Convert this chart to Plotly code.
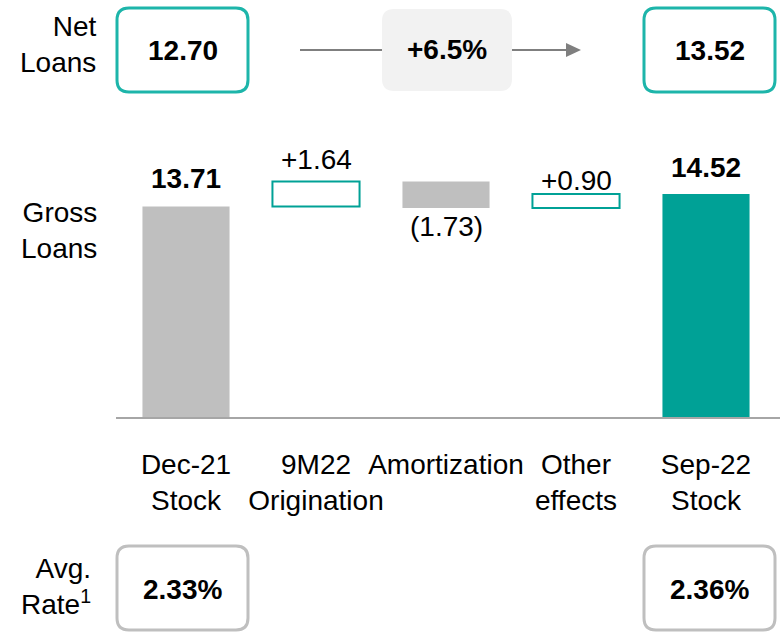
import plotly.graph_objects as go

# data
categories = ["Dec-21<br>Stock", "9M22<br>Origination", "Amortization", "Other<br>effects", "Sep-22<br>Stock"]
start_stock = 13.71
changes = [1.64, -1.73, 0.90]
end_stock = 14.52
value_labels = ["13.71", "+1.64", "(1.73)", "+0.90", "14.52"]

net_loans = ["12.70", "13.52"]
net_growth = "+6.5%"
avg_rate = ["2.33%", "2.36%"]

# colours / fonts
GREY_BAR = "#bfbfbf"
TEAL_BAR = "#00a196"
TEAL_LINE = "#1db5aa"
FONT = "Liberation Sans, Arial, sans-serif"
W, H = 781, 634


def px(x):
    return x / W


def py(y):
    return 1 - y / H


def round_rect(x0, y0, x1, y1, r):
    # rounded box in pixel coords -> paper path
    pts = [
        ("M", [(x0 + r, y0)]),
        ("L", [(x1 - r, y0)]),
        ("Q", [(x1, y0), (x1, y0 + r)]),
        ("L", [(x1, y1 - r)]),
        ("Q", [(x1, y1), (x1 - r, y1)]),
        ("L", [(x0 + r, y1)]),
        ("Q", [(x0, y1), (x0, y1 - r)]),
        ("L", [(x0, y0 + r)]),
        ("Q", [(x0, y0), (x0 + r, y0)]),
    ]
    s = ""
    for cmd, ps in pts:
        s += cmd + " " + " ".join(f"{px(a):.5f},{py(b):.5f}" for a, b in ps) + " "
    return s + "Z"


# waterfall bases
bases, heights = [0], [start_stock]
level = start_stock
for c in changes:
    if c >= 0:
        bases.append(level)
    else:
        bases.append(level + c)
    heights.append(abs(c))
    level += c
bases.append(0)
heights.append(end_stock)

fills = [GREY_BAR, "white", GREY_BAR, "white", TEAL_BAR]
lines = [GREY_BAR, TEAL_BAR, GREY_BAR, TEAL_BAR, TEAL_BAR]
line_w = [0, 2, 0, 2, 0]

fig = go.Figure()
fig.add_trace(go.Bar(
    x=categories, y=heights, base=bases,
    marker=dict(color=fills, line=dict(color=lines, width=line_w)),
    width=0.67, hoverinfo="skip",
))

# value labels above / below bars
label_shift = [28, 22, -19, 14, 27]
label_bold = [True, False, False, False, True]
for i, lab in enumerate(value_labels):
    top = bases[i] + heights[i]
    yv = bases[i] if label_shift[i] < 0 else top
    fig.add_annotation(
        x=categories[i], y=yv, xref="x", yref="y",
        text=f"<b>{lab}</b>" if label_bold[i] else lab,
        showarrow=False, yanchor="middle", yshift=label_shift[i],
        font=dict(size=28, color="black", family=FONT),
    )

shapes = []
teal_box = dict(type="path", xref="paper", yref="paper", line=dict(color=TEAL_LINE, width=3), fillcolor="white")
grey_box = dict(type="path", xref="paper", yref="paper", line=dict(color="#bfbfbf", width=3), fillcolor="white")
shapes.append(dict(teal_box, path=round_rect(117, 8, 248, 92, 12)))
shapes.append(dict(teal_box, path=round_rect(644, 8, 775, 92, 12)))
shapes.append(dict(type="path", xref="paper", yref="paper", line=dict(width=0),
                   fillcolor="#f2f2f2", path=round_rect(382, 9, 512, 91, 12)))
shapes.append(dict(grey_box, path=round_rect(117, 546, 248, 630, 12)))
shapes.append(dict(grey_box, path=round_rect(644, 546, 775, 630, 12)))
# arrow
shapes.append(dict(type="line", xref="paper", yref="paper", x0=px(300), x1=px(382), y0=py(50), y1=py(50),
                   line=dict(color="#7f7f7f", width=2)))
shapes.append(dict(type="line", xref="paper", yref="paper", x0=px(512), x1=px(567), y0=py(50), y1=py(50),
                   line=dict(color="#7f7f7f", width=2)))
shapes.append(dict(type="path", xref="paper", yref="paper", line=dict(width=0), fillcolor="#7f7f7f",
                   path=f"M {px(566)},{py(43)} L {px(581)},{py(50)} L {px(566)},{py(57)} Z"))

fig.update_layout(shapes=shapes)


def note(text, x, y, anchor="center", bold=False):
    fig.add_annotation(
        x=px(x), y=py(y), xref="paper", yref="paper",
        text=f"<b>{text}</b>" if bold else text,
        showarrow=False, xanchor=anchor, yanchor="middle", align=anchor if anchor != "center" else "center",
        font=dict(size=28, color="black", family=FONT),
    )


note("Net<br>Loans", 99, 44, anchor="right")
note(net_loans[0], 182.5, 51, bold=True)
note(net_growth, 447, 50, bold=True)
note(net_loans[1], 709.5, 51, bold=True)
note("Gross<br>Loans", 99, 231, anchor="right")
note("Avg.<br>Rate<sup>1</sup>", 93, 586, anchor="right")
note(avg_rate[0], 182.5, 589, bold=True)
note(avg_rate[1], 709.5, 589, bold=True)

x0 = -(186 - 116) / 130
fig.update_xaxes(
    domain=[px(116), px(780)], range=[x0, x0 + 664 / 130],
    showline=True, linecolor="#a6a6a6", linewidth=2, showgrid=False, zeroline=False,
    ticks="", tickangle=0, ticklabelstandoff=21,
    tickfont=dict(size=28, color="black", family=FONT),
)
fig.update_yaxes(
    domain=[py(417), py(140)], range=[0, (417 - 140) / 15.35],
    visible=False, showgrid=False, zeroline=False,
)
fig.update_layout(
    width=W, height=H, margin=dict(l=0, r=0, t=0, b=0),
    plot_bgcolor="white", paper_bgcolor="white", showlegend=False,
    font=dict(family=FONT, color="black"),
)

fig.write_html(
    "out.html",
    config={"displayModeBar": False},
    post_script="document.body.style.margin='0';document.body.style.overflow='hidden';",
)
